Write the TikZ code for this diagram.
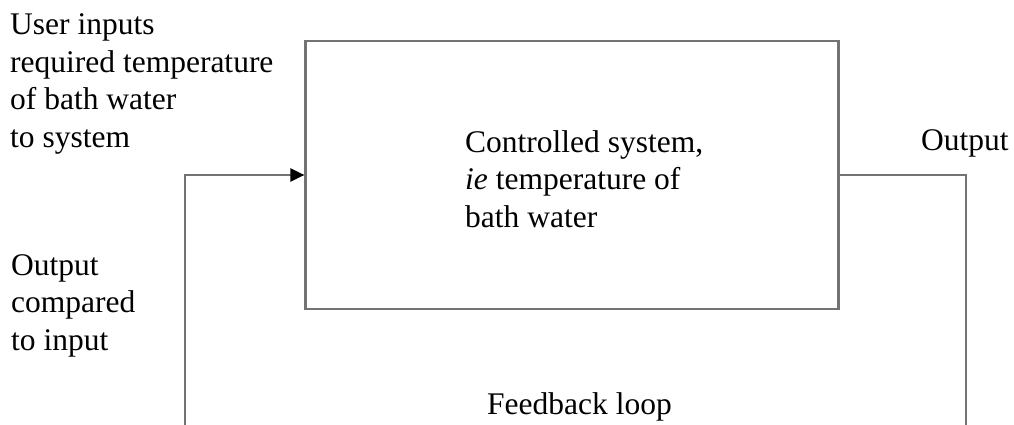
\documentclass[tikz,border=0pt]{standalone}
\usepackage{fontspec}
\setmainfont{Liberation Serif}
\usetikzlibrary{arrows.meta}

\begin{document}
\begin{tikzpicture}
 [
  x=1pt, y=-1pt,
  >={Triangle[length=14pt, width=13pt, color=black]},
  line/.style  = {draw=black!55, line width=2.2pt},
  txt/.style   = {inner sep=0pt, align=left, anchor=base west,
                  font=\fontsize{31.5}{37.5}\selectfont},
  sysbox/.style = {line, minimum width=533pt, minimum height=268pt, inner sep=0pt},
 ]
 \useasboundingbox (0,0) rectangle (1014,425);

 % the controlled system
 \node (sys) at (572,175) [sysbox] {};
 \node (systxt) at (465,227) [txt] {Controlled system,\\\textit{ie} temperature of\\bath water};

 % labels (anchored on their last line)
 \node (user) at (10,147) [txt] {User inputs\\required temperature\\of bath water\\to system};
 \node (cmp) at (11,350) [txt] {Output\\compared\\to input};
 \node (out) at (921,150) [txt] {Output};
 \node (fb) at (487,414) [txt] {Feedback loop};

 % the feedback loop
 \coordinate (fbL) at (185,425);
 \coordinate (fbR) at (966,425);
 \draw[line, ->] (fbL) |- (sys.west);
 \draw[line] (sys.east) -| (fbR);
\end{tikzpicture}
\end{document}
